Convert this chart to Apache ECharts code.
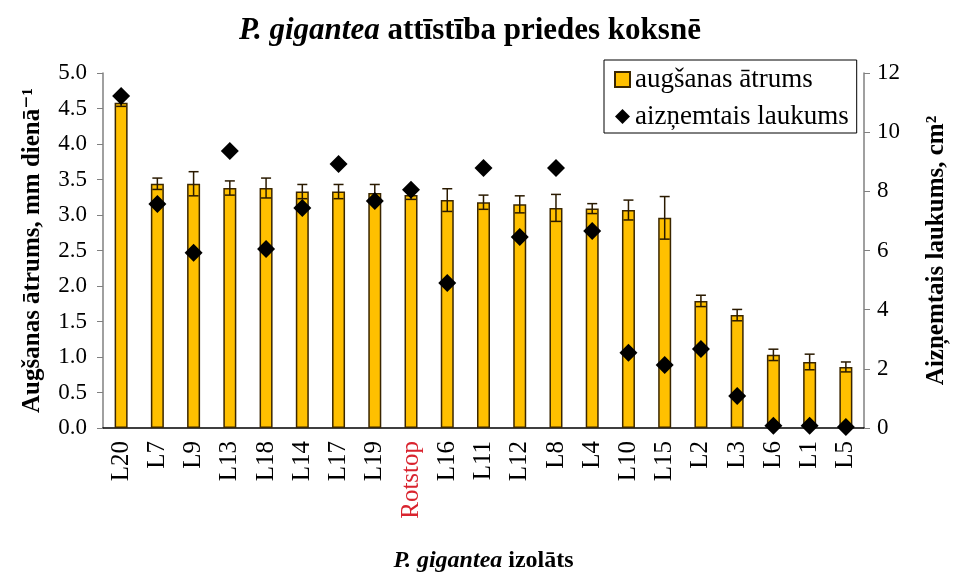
<!DOCTYPE html>
<html>
<head>
<meta charset="utf-8">
<script src="https://cdn.jsdelivr.net/npm/echarts@6/dist/echarts.min.js"></script>
<style>
  html, body { margin: 0; padding: 0; background: #fff; }
  #chart { width: 954px; height: 575px; }
</style>
</head>
<body>
<div id="chart"></div>
<script>
// isolates, sorted by growth rate
const isolates = ['L20', 'L7', 'L9', 'L13', 'L18', 'L14', 'L17', 'L19', 'Rotstop', 'L16',
  'L11', 'L12', 'L8', 'L4', 'L10', 'L15', 'L2', 'L3', 'L6', 'L1', 'L5']
// augšanas ātrums, mm dienā-1
const growthRate = [4.58, 3.44, 3.44, 3.38, 3.38, 3.33, 3.33, 3.31, 3.28, 3.21,
  3.18, 3.15, 3.10, 3.09, 3.07, 2.96, 1.79, 1.59, 1.03, 0.93, 0.86]
const growthErr = [0.05, 0.08, 0.17, 0.10, 0.14, 0.10, 0.10, 0.12, 0.06, 0.16,
  0.10, 0.12, 0.19, 0.07, 0.14, 0.30, 0.08, 0.08, 0.08, 0.11, 0.07]
// aizņemtais laukums, cm2
const area = [11.22, 7.57, 5.92, 9.36, 6.05, 7.44, 8.92, 7.67, 8.05, 4.90,
  8.79, 6.46, 8.79, 6.66, 2.54, 2.13, 2.67, 1.08, 0.08, 0.08, 0.03]

const serif = "'Liberation Serif', 'DejaVu Serif', serif"
const chart = echarts.init(document.getElementById('chart'))

const errData = growthRate.map((v, i) => [i, v, growthErr[i]])

chart.setOption({
  animation: false,
  backgroundColor: '#fff',
  textStyle: { fontFamily: serif, color: '#000' },
  title: {
    text: '{i|P. gigantea} attīstība priedes koksnē',
    left: 234,
    top: 10,
    textStyle: {
      fontFamily: serif,
      fontSize: 31,
      fontWeight: 'bold',
      color: '#000',
      rich: {
        i: { fontFamily: serif, fontSize: 31, fontWeight: 'bold', fontStyle: 'italic', color: '#000' }
      }
    }
  },
  legend: {
    orient: 'vertical',
    left: 604,
    top: 60,
    padding: [6, 8, 3, 10],
    itemGap: 10,
    itemWidth: 15,
    itemHeight: 15,
    borderColor: '#000',
    borderWidth: 1,
    data: [
      { name: 'augšanas ātrums', icon: 'rect' },
      { name: 'aizņemtais laukums', icon: 'diamond' }
    ],
    textStyle: { fontFamily: serif, fontSize: 27, color: '#000' }
  },
  grid: { left: 103, right: 90, top: 73, bottom: 147, outerBoundsMode: 'none' },
  xAxis: {
    type: 'category',
    data: isolates.map(name => name === 'Rotstop'
      ? { value: name, textStyle: { color: '#d9232e' } }
      : name),
    name: '{i|P. gigantea} izolāts',
    nameLocation: 'middle',
    nameGap: 121,
    nameTextStyle: {
      fontFamily: serif,
      fontSize: 24,
      fontWeight: 'bold',
      color: '#000',
      rich: {
        i: { fontFamily: serif, fontSize: 24, fontWeight: 'bold', fontStyle: 'italic', color: '#000' }
      }
    },
    axisLine: { lineStyle: { color: '#000', width: 1.5 } },
    axisTick: { show: false },
    axisLabel: { rotate: 90, margin: 13, fontFamily: serif, fontSize: 25, color: '#000', interval: 0 }
  },
  yAxis: [{
    type: 'value',
    min: 0,
    max: 5,
    interval: 0.5,
    name: 'Augšanas ātrums, mm dienā⁻¹',
    nameLocation: 'middle',
    nameRotate: 90,
    nameGap: 58,
    nameTextStyle: { fontFamily: serif, fontSize: 25, fontWeight: 'bold', color: '#000' },
    axisLine: { show: true, lineStyle: { color: '#808080', width: 1.5 } },
    axisTick: { show: true, length: 6, lineStyle: { color: '#808080' } },
    axisLabel: {
      margin: 16,
      fontFamily: serif,
      fontSize: 23,
      color: '#000',
      formatter: v => v.toFixed(1)
    },
    splitLine: { show: false }
  }, {
    type: 'value',
    min: 0,
    max: 12,
    interval: 2,
    name: 'Aizņemtais laukums, cm²',
    nameLocation: 'middle',
    nameRotate: 90,
    nameGap: 60,
    nameTextStyle: { fontFamily: serif, fontSize: 25, fontWeight: 'bold', color: '#000' },
    axisLine: { show: true, lineStyle: { color: '#808080', width: 1.5 } },
    axisTick: { show: true, length: 6, lineStyle: { color: '#808080' } },
    axisLabel: { margin: 13, fontFamily: serif, fontSize: 23, color: '#000' },
    splitLine: { show: false }
  }],
  series: [{
    name: 'augšanas ātrums',
    type: 'bar',
    yAxisIndex: 0,
    barWidth: 13,
    data: growthRate,
    itemStyle: { color: '#ffc000', borderColor: '#3a2600', borderWidth: 1.5 },
    z: 2
  }, {
    name: 'error',
    type: 'custom',
    yAxisIndex: 0,
    data: errData,
    z: 3,
    renderItem(params, api) {
      const i = api.value(0)
      const v = api.value(1)
      const e = api.value(2)
      const hi = api.coord([i, v + e])
      const lo = api.coord([i, v - e])
      const cap = 5
      const style = { stroke: '#2a1a00', lineWidth: 1.5 }
      return {
        type: 'group',
        children: [
          { type: 'line', shape: { x1: hi[0], y1: hi[1], x2: lo[0], y2: lo[1] }, style },
          { type: 'line', shape: { x1: hi[0] - cap, y1: hi[1], x2: hi[0] + cap, y2: hi[1] }, style },
          { type: 'line', shape: { x1: lo[0] - cap, y1: lo[1], x2: lo[0] + cap, y2: lo[1] }, style }
        ]
      }
    }
  }, {
    name: 'aizņemtais laukums',
    type: 'scatter',
    yAxisIndex: 1,
    symbol: 'diamond',
    symbolSize: 18,
    data: area,
    itemStyle: { color: '#000', opacity: 1 },
    z: 5
  }]
})
</script>
</body>
</html>
